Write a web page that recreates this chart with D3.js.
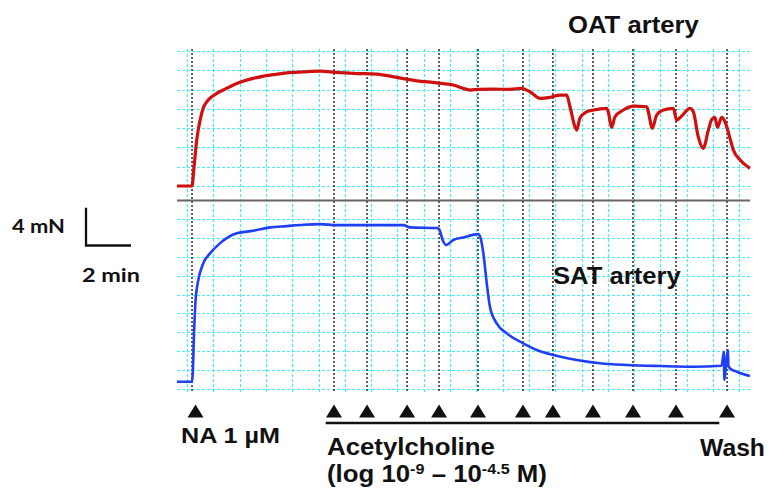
<!DOCTYPE html>
<html>
<head>
<meta charset="utf-8">
<script src="https://cdn.jsdelivr.net/npm/d3@7"></script>
<style>
  body { margin: 0; background: #fff; }
  svg { display: block; }
  .lbl { font-family: "Liberation Sans", Arial, sans-serif; font-weight: bold; fill: #111; }
  .scl { font-family: Lato, "Open Sans", sans-serif; font-weight: bold; fill: #111; }
</style>
</head>
<body>
<div id="chart"></div>
<script>
// time in minutes from NA addition, force in mN above baseline
var oatTime = [-0.67, 0, 0.09, 0.21, 0.36, 0.5, 0.72, 1.1, 1.39, 1.99, 2.72, 3.47, 4.21, 4.95, 5.69,
  6.43, 7.17, 8.21, 9.1, 9.99, 10.88, 11.61, 12.21, 12.36, 12.72, 13.39, 14.13, 14.65, 15.02, 15.47,
  15.91, 16.36, 16.65, 16.8, 17.02, 17.1, 17.24, 17.54, 17.84, 18.43, 18.5, 18.65, 18.8, 19.17, 19.61,
  20.21, 20.28, 20.46, 20.65, 20.95, 21.39, 21.54, 21.76, 22.13, 22.28, 22.5, 22.72, 22.95, 23.1,
  23.24, 23.35, 23.54, 23.69, 23.91, 24.06, 24.36, 24.8];
var oatForce = [0, 0, 1.97, 4.77, 6.84, 8.08, 8.91, 9.61, 9.95, 10.64, 11.16, 11.5, 11.74, 11.84, 11.92,
  11.78, 11.68, 11.61, 11.26, 10.91, 10.7, 10.47, 10.02, 9.95, 10.02, 10.05, 10.02, 10.12, 9.77, 9.09,
  9.19, 9.43, 9.43, 8.22, 6.15, 5.8, 7.02, 7.7, 7.88, 8.05, 7.7, 6.08, 7.18, 7.88, 8.29,
  8.22, 7.7, 5.98, 7.36, 7.88, 8.05, 6.84, 7.25, 8.05, 7.7, 5.11, 3.91, 5.8, 6.91,
  7.12, 6.08, 7.12, 6.66, 4.94, 3.73, 2.69, 1.83];

var satTime = [-0.67, 0, 0.03, 0.09, 0.16, 0.28, 0.5, 0.8, 1.24, 1.99, 2.72, 3.47, 4.21, 4.95, 5.69,
  6.43, 7.91, 9.39, 9.69, 10.88, 10.99, 11.14, 11.29, 11.61, 12.06, 12.72, 12.83, 12.95, 13.1, 13.24,
  13.54, 13.99, 14.72, 15.32, 16.06, 17.1, 18.13, 19.32, 20.8, 22.28, 23.54, 23.64, 23.66, 23.73,
  23.82, 23.84, 23.91, 24.21, 24.8];
var satForce = [0.77, 0.77, 1.48, 5.89, 9.42, 11.53, 13.3, 14.36, 15.42, 16.48, 16.75, 17.11, 17.25, 17.39, 17.46,
  17.35, 17.35, 17.35, 17.11, 17.04, 16.9, 15.77, 15.24, 15.77, 16.05, 16.4, 15.95, 14.36, 11.19, 8.71,
  6.95, 5.89, 4.84, 4.13, 3.6, 3.07, 2.72, 2.54, 2.43, 2.36, 2.47, 3.95, 0.95, 2.43,
  4.13, 2.43, 2.19, 1.83, 1.38];

// drug additions: NA, ten acetylcholine doses, wash
var eventTimes = [0, 6.31, 7.78, 9.56, 10.98, 12.71, 14.71, 16.04, 17.82, 19.6, 21.51, 23.78];

var topTicks = [0, 2, 4, 6, 8, 10, 12, 14];
var botTicks = [0, 2, 4, 6, 8, 10, 12, 14, 16, 18];
var gridTimes = d3.range(22).map(function(k) { return -0.222 + k * 1.169; });

var svgWidth = 769;
var svgHeight = 492;

var svg = d3.select("#chart")
  .append("svg")
  .attr("width", svgWidth)
  .attr("height", svgHeight);

var xScale = d3.scaleLinear().domain([-0.667, 24.8]).range([177, 750]);
var topY = d3.scaleLinear().domain([0, 14]).range([186, 51]);
var botY = d3.scaleLinear().domain([0, 18]).range([389, 219]);

var gridColor = "#45eef6";

// cyan grid
var grid = svg.append("g");
grid.selectAll(".vgrid")
  .data(gridTimes)
  .enter()
  .append("line")
  .attr("x1", d => Math.round(xScale(d)) + 0.5)
  .attr("x2", d => Math.round(xScale(d)) + 0.5)
  .attr("y1", 49)
  .attr("y2", 393)
  .attr("stroke", gridColor)
  .attr("stroke-width", 1.2)
  .attr("stroke-dasharray", "3,2");

grid.selectAll(".tgrid")
  .data(topTicks)
  .enter()
  .append("line")
  .attr("x1", 177)
  .attr("x2", 750)
  .attr("y1", d => Math.round(topY(d)) + 0.5)
  .attr("y2", d => Math.round(topY(d)) + 0.5)
  .attr("stroke", gridColor)
  .attr("stroke-width", 1.2)
  .attr("stroke-dasharray", "3,2");

grid.selectAll(".bgrid")
  .data(botTicks)
  .enter()
  .append("line")
  .attr("x1", 177)
  .attr("x2", 750)
  .attr("y1", d => Math.round(botY(d)) + 0.5)
  .attr("y2", d => Math.round(botY(d)) + 0.5)
  .attr("stroke", gridColor)
  .attr("stroke-width", 1.2)
  .attr("stroke-dasharray", "3,2");

// event markers (dashed black)
svg.append("g").selectAll("line")
  .data(eventTimes)
  .enter()
  .append("line")
  .attr("x1", d => xScale(d))
  .attr("x2", d => xScale(d))
  .attr("y1", 49)
  .attr("y2", 393)
  .attr("stroke", "#3a3a3a")
  .attr("stroke-width", 1.6)
  .attr("stroke-dasharray", "2,2");

// channel separator
svg.append("line")
  .attr("x1", 177)
  .attr("x2", 750)
  .attr("y1", 200.5)
  .attr("y2", 200.5)
  .attr("stroke", "#666")
  .attr("stroke-width", 2);

// traces
var oatLine = d3.line()
  .x((d, i) => xScale(oatTime[i]))
  .y(d => topY(d))
  .curve(d3.curveMonotoneX);
var satLine = d3.line()
  .x((d, i) => xScale(satTime[i]))
  .y(d => botY(d))
  .curve(d3.curveMonotoneX);

svg.append("path")
  .datum(oatForce)
  .attr("d", oatLine)
  .attr("fill", "none")
  .attr("stroke", "#d00f0f")
  .attr("stroke-width", 3.2)
  .attr("stroke-linejoin", "round");

svg.append("path")
  .datum(satForce)
  .attr("d", satLine)
  .attr("fill", "none")
  .attr("stroke", "#1f3ff5")
  .attr("stroke-width", 2.6)
  .attr("stroke-linejoin", "round");

// triangles under each addition
svg.append("g").selectAll("path")
  .data(eventTimes)
  .enter()
  .append("path")
  .attr("d", d => {
    var x = xScale(d) + (d === 0 ? 3.5 : 0);
    return `M${x - 8},417.5 L${x + 8},417.5 L${x},404.5 Z`;
  })
  .attr("fill", "#111");

// acetylcholine bar
svg.append("line")
  .attr("x1", 325.7)
  .attr("x2", 719.3)
  .attr("y1", 423)
  .attr("y2", 423)
  .attr("stroke", "#111")
  .attr("stroke-width", 2.6);

// scale bar
svg.append("path")
  .attr("d", `M86,${245.5 - (botY(0) - botY(4))} L86,245.5 L${86 + xScale(2) - xScale(0)},245.5`)
  .attr("fill", "none")
  .attr("stroke", "#111")
  .attr("stroke-width", 2.3);

// fit a label's width by stretching horizontally
function fit(sel, x, y, w) {
  var bw = sel.node().getBBox().width;
  sel.attr("transform", `translate(${x},${y}) scale(${w / bw},1)`);
}

function addLabel(txt, cls, size, x, y, w) {
  var t = svg.append("text")
    .attr("class", cls)
    .style("font-size", size + "px")
    .text(txt);
  fit(t, x, y, w);
  return t;
}

addLabel("OAT artery", "lbl", 23, 568, 33, 131);
addLabel("SAT artery", "lbl", 23, 553, 283.5, 128);
addLabel("NA 1 \u00b5M", "lbl", 22, 181, 443, 99);
addLabel("Acetylcholine", "lbl", 24, 327, 455, 168);
addLabel("Wash", "lbl", 24, 700, 456, 65);
addLabel("4 mN", "scl", 18, 12, 233, 53);
addLabel("2 min", "scl", 18, 82, 282, 58);

var logText = svg.append("text")
  .attr("class", "lbl")
  .style("font-size", "24px");
logText.append("tspan").text("(log 10");
logText.append("tspan").attr("dy", -8).style("font-size", "15px").text("-9");
logText.append("tspan").attr("dy", 8).text(" \u2013 10");
logText.append("tspan").attr("dy", -8).style("font-size", "15px").text("-4.5");
logText.append("tspan").attr("dy", 8).text(" M)");
fit(logText, 327, 482, 220);
</script>
</body>
</html>
